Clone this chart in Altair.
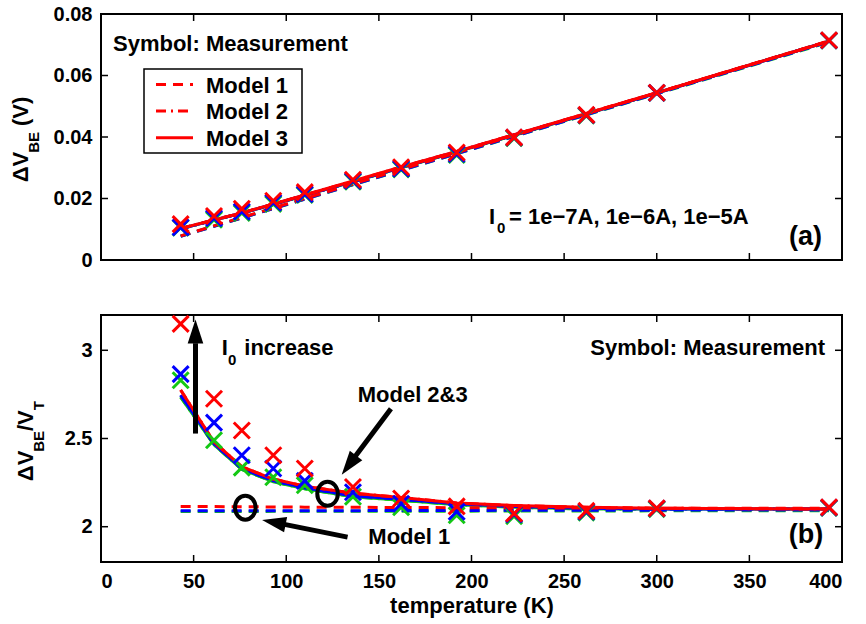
import altair as alt
import pandas as pd

FONT = "Liberation Sans"

# ---------------- data ----------------
T = [43, 61, 76, 93, 110, 136, 162, 192, 223, 262, 300, 393]
currents = ["1e-7A", "1e-6A", "1e-5A"]
colors = ["#14c814", "#0000ff", "#ff0000"]

# (a) measured dVBE (V)
a_meas_g = [0.01049, 0.01309, 0.01529, 0.01827, 0.02119, 0.02543, 0.02946, 0.03416, 0.03959, 0.04697, 0.05429, 0.07133]
a_meas_b = [0.01061, 0.01361, 0.01575, 0.01867, 0.02142, 0.02573, 0.02973, 0.03449, 0.03979, 0.04708, 0.05436, 0.07140]
a_meas_r = [0.01167, 0.01432, 0.01667, 0.01927, 0.02209, 0.02608, 0.03015, 0.03498, 0.03988, 0.04719, 0.05441, 0.07147]
# (a) model 1
a_m1_g = [0.00773, 0.01096, 0.01366, 0.01672, 0.01978, 0.02446, 0.02915, 0.03454, 0.04017, 0.04719, 0.05403, 0.07082]
a_m1_b = [0.00774, 0.01099, 0.01369, 0.01676, 0.01982, 0.02451, 0.02920, 0.03460, 0.04023, 0.04726, 0.05413, 0.07096]
a_m1_r = [0.00784, 0.01111, 0.01384, 0.01693, 0.02001, 0.02473, 0.02944, 0.03487, 0.04050, 0.04755, 0.05441, 0.07126]
# (a) model 3 (model 2 overlaps it)
a_m3_g = [0.01013, 0.01296, 0.01523, 0.01807, 0.02100, 0.02543, 0.03001, 0.03515, 0.04055, 0.04742, 0.05429, 0.07113]
a_m3_b = [0.01017, 0.01298, 0.01526, 0.01811, 0.02104, 0.02549, 0.03008, 0.03523, 0.04065, 0.04753, 0.05429, 0.07113]
a_m3_r = [0.01028, 0.01303, 0.01532, 0.01819, 0.02114, 0.02567, 0.03024, 0.03530, 0.04075, 0.04764, 0.05441, 0.07113]
a_m2_g, a_m2_b, a_m2_r = a_m3_g, a_m3_b, a_m3_r

# (b) measured dVBE/VT
b_meas_g = [2.83, 2.49, 2.335, 2.28, 2.235, 2.17, 2.11, 2.065, 2.06, 2.08, 2.10, 2.106]
b_meas_b = [2.865, 2.59, 2.405, 2.33, 2.26, 2.195, 2.13, 2.085, 2.07, 2.085, 2.103, 2.108]
b_meas_r = [3.15, 2.725, 2.545, 2.405, 2.33, 2.225, 2.16, 2.115, 2.075, 2.09, 2.105, 2.11]
# (b) model 1
b_m1_g = [2.086, 2.086, 2.086, 2.087, 2.087, 2.087, 2.088, 2.088, 2.089, 2.089, 2.090, 2.091]
b_m1_b = [2.090, 2.090, 2.090, 2.091, 2.091, 2.091, 2.092, 2.092, 2.093, 2.093, 2.094, 2.095]
b_m1_r = [2.115, 2.114, 2.113, 2.112, 2.111, 2.110, 2.109, 2.108, 2.107, 2.106, 2.105, 2.104]
# (b) model 3 (model 2 overlaps it)
b_m3_g = [2.735, 2.465, 2.325, 2.255, 2.215, 2.17, 2.15, 2.125, 2.11, 2.10, 2.10, 2.10]
b_m3_b = [2.745, 2.47, 2.33, 2.26, 2.22, 2.175, 2.155, 2.13, 2.115, 2.105, 2.10, 2.10]
b_m3_r = [2.775, 2.48, 2.34, 2.27, 2.23, 2.19, 2.166, 2.134, 2.12, 2.11, 2.105, 2.10]
b_m2_g, b_m2_b, b_m2_r = b_m3_g, b_m3_b, b_m3_r

x_ticks = [0, 50, 100, 150, 200, 250, 300, 350, 400]
ya_ticks = [0, 0.02, 0.04, 0.06, 0.08]
yb_ticks = [2, 2.5, 3]
legend_labels = ["Model 1", "Model 2", "Model 3"]

# annotation anchors for panel (b), data coordinates
arrow_T = [51.0, 156.5, 133.1]
arrow_V = [2.528, 2.668, 1.941]
arrow_T2 = [51.0, 137.3, 99.0]
arrow_V2 = [3.04, 2.399, 2.013]
head_T = [51.0, 133.8, 93.3]
head_V = [3.106, 2.349, 2.025]
head_angle = [0, 216.9, 281.3]
ring_T = [122.3, 77.9]
ring_V = [2.187, 2.108]

# ---------------- styling ----------------
W = 741
HA = 246
HB = 247
LW = 3
DASH1 = [10, 7]
DASH2 = [10, 5, 2, 5]
XSHAPE = "M-1,-1L1,1M-1,1L1,-1"
HEAD = "M0,-1L0.65,1L-0.65,1Z"
RING = ("M0,-1C0.473,-1,0.857,-0.552,0.857,0C0.857,0.552,0.473,1,0,1"
        "C-0.473,1,-0.857,0.552,-0.857,0C-0.857,-0.552,-0.473,-1,0,-1Z")
LABEL_STYLE = dict(labelFont=FONT, labelFontSize=20, labelFontWeight="bold", labelColor="black")


def txt(text, x, y, size=22, align="left", angle=0):
    return alt.Chart(pd.DataFrame({"label": [text]})).mark_text(
        font=FONT, fontWeight="bold", fontSize=size, align=align,
        baseline="middle", angle=angle, color="black"
    ).encode(text="label:N", x=alt.value(x), y=alt.value(y))


def panel(meas, m1, m2, m3, ydomain, yticks, ylabel_expr, H, show_x):
    xs = alt.Scale(domain=[0, 400], nice=False, zero=False)
    ys = alt.Scale(domain=ydomain, nice=False, zero=False)
    if show_x:
        xax = alt.Axis(values=x_ticks, title="temperature (K)", labelPadding=9,
                       titlePadding=4, tickSize=0, ticks=False, domain=False, grid=False,
                       titleFont=FONT, titleFontSize=22, titleFontWeight="bold",
                       titleColor="black", **LABEL_STYLE)
    else:
        xax = None
    yax = alt.Axis(values=yticks, title=None, labelExpr=ylabel_expr, labelPadding=9,
                   tickSize=0, ticks=False, domain=False, grid=False, **LABEL_STYLE)
    X = alt.X("T:Q", scale=xs, axis=xax)
    Y = alt.Y("V:Q", scale=ys, axis=yax)

    layers = []
    for i, cur in enumerate(currents):
        for vals, dash in [(m1[i], DASH1), (m2[i], DASH2), (m3[i], None)]:
            df = pd.DataFrame({"T": T, "V": vals})
            kw = dict(color=colors[i], strokeWidth=LW)
            if dash:
                kw["strokeDash"] = dash
            layers.append(alt.Chart(df).mark_line(**kw).encode(x=X, y=Y))
    for i, cur in enumerate(currents):
        df = pd.DataFrame({"T": T, "V": meas[i]})
        layers.append(alt.Chart(df).mark_point(
            shape=XSHAPE, filled=False, size=256, strokeWidth=3, color=colors[i], opacity=1
        ).encode(x=X, y=Y))

    # inward ticks on all four sides
    xt = pd.DataFrame({"T": x_ticks})
    yt = pd.DataFrame({"V": yticks})
    layers.append(alt.Chart(xt).mark_rule(color="black", strokeWidth=1.5).encode(
        x=X, y=alt.value(0), y2=alt.value(7)))
    layers.append(alt.Chart(xt).mark_rule(color="black", strokeWidth=1.5).encode(
        x=X, y=alt.value(H - 7), y2=alt.value(H)))
    layers.append(alt.Chart(yt).mark_rule(color="black", strokeWidth=1.5).encode(
        y=Y, x=alt.value(0), x2=alt.value(7)))
    layers.append(alt.Chart(yt).mark_rule(color="black", strokeWidth=1.5).encode(
        y=Y, x=alt.value(W - 7), x2=alt.value(W)))
    return layers, X, Y


# ---------------- panel (a) ----------------
la, Xa, Ya = panel([a_meas_g, a_meas_b, a_meas_r], [a_m1_g, a_m1_b, a_m1_r],
                   [a_m2_g, a_m2_b, a_m2_r], [a_m3_g, a_m3_b, a_m3_r],
                   [0, 0.08], ya_ticks,
                   "datum.value == 0 ? '0' : format(datum.value, '.2f')", HA, False)

la.append(txt("Symbol: Measurement", 12, 30))
# legend box
la.append(alt.Chart(pd.DataFrame({"a": [0]})).mark_rect(
    fill="white", stroke="black", strokeWidth=1.5).encode(
    x=alt.value(43), x2=alt.value(201), y=alt.value(55), y2=alt.value(139)))
rows = [70.5, 97, 123.7]
for lab, yy, dash in zip(legend_labels, rows, [DASH1, DASH2, None]):
    kw = dict(color="#ff0000", strokeWidth=LW)
    if dash:
        kw["strokeDash"] = dash
    la.append(alt.Chart(pd.DataFrame({"a": [0]})).mark_rule(**kw).encode(
        x=alt.value(55), x2=alt.value(92), y=alt.value(yy)))
    la.append(txt(lab, 105, yy + 1))
la.append(txt("I", 388, 202.5))
la.append(txt("0", 396, 213.5, size=15))
la.append(txt("= 1e\u22127A, 1e\u22126A, 1e\u22125A", 408, 202.5))
la.append(txt("(a)", 721, 223, size=27, align="right"))
# y title
la.append(txt("\u0394V", -80, 153, angle=270, align="center"))
la.append(txt("BE", -67, 128.4, size=15, angle=270, align="center"))
la.append(txt("(V)", -80, 97.3, angle=270, align="center"))

top = alt.layer(*la).properties(width=W, height=HA)

# ---------------- panel (b) ----------------
lb, Xb, Yb = panel([b_meas_g, b_meas_b, b_meas_r], [b_m1_g, b_m1_b, b_m1_r],
                   [b_m2_g, b_m2_b, b_m2_r], [b_m3_g, b_m3_b, b_m3_r],
                   [1.8, 3.2], yb_ticks, "format(datum.value, '~g')", HB, True)

arrows = pd.DataFrame({"T": arrow_T, "V": arrow_V, "T2": arrow_T2, "V2": arrow_V2})
lb.append(alt.Chart(arrows).mark_rule(color="black", strokeWidth=5).encode(
    x=Xb, y=Yb, x2="T2:Q", y2="V2:Q"))
heads = pd.DataFrame({"T": head_T, "V": head_V, "ang": head_angle})
lb.append(alt.Chart(heads).mark_point(
    shape=HEAD, filled=True, size=576, color="black", strokeWidth=0, opacity=1).encode(
    x=Xb, y=Yb, angle=alt.Angle("ang:Q", scale=None)))
rings = pd.DataFrame({"T": ring_T, "V": ring_V})
lb.append(alt.Chart(rings).mark_point(
    shape=RING, filled=False, size=576, color="black", strokeWidth=4, opacity=1).encode(
    x=Xb, y=Yb))

lb.append(txt("Symbol: Measurement", 724, 33, align="right"))
lb.append(txt("I", 120.7, 32.5))
lb.append(txt("0", 127, 45, size=15))
lb.append(txt("increase", 143.3, 32.5))
lb.append(txt("Model 2&3", 256.7, 80))
lb.append(txt("Model 1", 267.3, 221.7))
lb.append(txt("(b)", 722.3, 220, size=27, align="right"))
# y title
lb.append(txt("\u0394V", -75, 150.9, angle=270, align="center"))
lb.append(txt("BE", -62, 126.4, size=15, angle=270, align="center"))
lb.append(txt("/V", -75, 105.6, angle=270, align="center"))
lb.append(txt("T", -62, 90.6, size=15, angle=270, align="center"))

bottom = alt.layer(*lb).properties(width=W, height=HB)

chart = alt.vconcat(top, bottom, spacing=37).properties(
    padding={"left": 9, "top": 3, "right": 5, "bottom": 5},
    background="white"
).configure_view(
    stroke="black", strokeWidth=2
)

chart.save("out.html", embed_options={"renderer": "svg", "actions": False})
